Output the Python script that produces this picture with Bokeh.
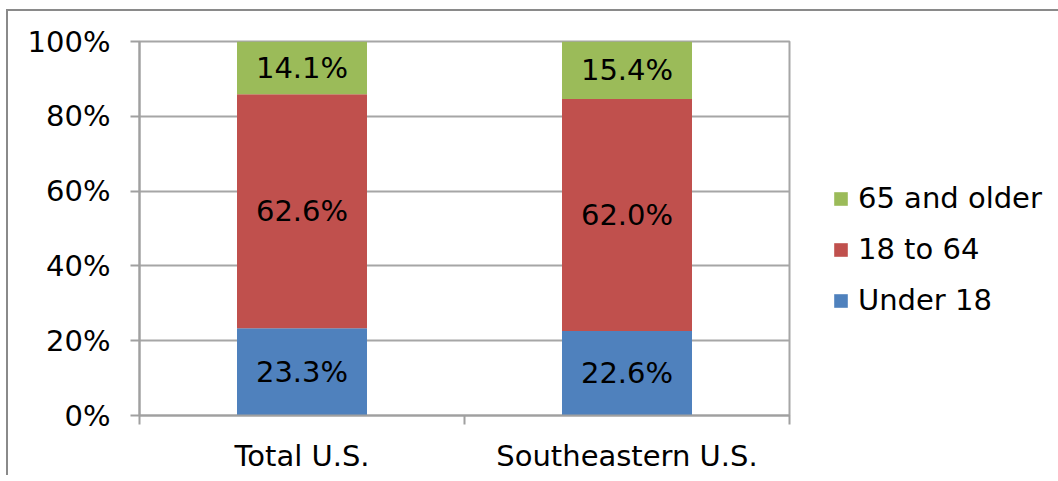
from bokeh.plotting import figure
from bokeh.models import (ColumnDataSource, FixedTicker, PrintfTickFormatter, Range1d,
                          Legend, LegendItem)
from bokeh.core.properties import value
from bokeh.embed import file_html
from bokeh.resources import INLINE

categories = ["Total U.S.", "Southeastern U.S."]
series = ["Under 18", "18 to 64", "65 and older"]
under18 = [23.3, 22.6]
age18to64 = [62.6, 62.0]
over65 = [14.1, 15.4]
colors = ["#4F81BD", "#C0504D", "#9BBB59"]
y_ticks = [0, 20, 40, 60, 80, 100]

FONT = "DejaVu Sans"
FS = "29px"

x = [i + 0.5 for i in range(len(categories))]
data = {"x": x, "Under 18": under18, "18 to 64": age18to64, "65 and older": over65}
src = ColumnDataSource(data)

p = figure(frame_width=650, frame_height=374, output_backend="svg", toolbar_location=None,
           x_range=Range1d(0, len(categories)), y_range=Range1d(0, 100),
           min_border_left=131, min_border_top=30, min_border_right=0, min_border_bottom=58)
p.styles = {"border-left": "2px solid #8a8a8a", "border-top": "2px solid #8a8a8a",
            "margin-left": "6px", "margin-top": "9px"}

renderers = p.vbar_stack(series, x="x", width=0.4, source=src, color=colors, line_color=None)

# labels
for i, s in enumerate(series):
    bottoms = [sum(data[series[k]][j] for k in range(i)) for j in range(len(categories))]
    mids = [b + v / 2 for b, v in zip(bottoms, data[s])]
    texts = ["%.1f%%" % v for v in data[s]]
    p.text(x=x, y=mids, text=texts, text_align="center", text_baseline="middle",
           text_font=value(FONT), text_font_size=FS, text_color="black")

# axes
p.yaxis.ticker = FixedTicker(ticks=y_ticks)
p.yaxis.formatter = PrintfTickFormatter(format="%d%%")
p.yaxis.major_tick_out = 9
p.yaxis.major_tick_in = 0
p.yaxis.minor_tick_out = 0
p.yaxis.minor_tick_in = 0
p.yaxis.major_label_standoff = 20
p.xaxis.ticker = FixedTicker(ticks=x, minor_ticks=[float(i) for i in range(len(categories) + 1)])
p.xaxis.major_label_overrides = {xi: c for xi, c in zip(x, categories)}
p.xaxis.major_tick_out = 0
p.xaxis.major_tick_in = 0
p.xaxis.minor_tick_out = 9
p.xaxis.minor_tick_in = 0
p.xaxis.major_label_standoff = 14
for ax in (p.xaxis[0], p.yaxis[0]):
    ax.axis_line_color = "#a0a0a0"
    ax.axis_line_width = 2
    ax.major_tick_line_color = "#a0a0a0"
    ax.major_tick_line_width = 2
    ax.minor_tick_line_color = "#a0a0a0"
    ax.minor_tick_line_width = 2
    ax.major_label_text_font = FONT
    ax.major_label_text_font_size = FS
    ax.major_label_text_color = "black"

p.xgrid.visible = False
p.ygrid.ticker = FixedTicker(ticks=y_ticks)
p.ygrid.grid_line_color = "#a6a6a6"
p.ygrid.grid_line_width = 2
p.outline_line_color = "#a6a6a6"
p.outline_line_width = 2
p.background_fill_color = "white"
p.border_fill_color = "white"

items = [LegendItem(label=series[i], renderers=[renderers[i]]) for i in reversed(range(len(series)))]
legend = Legend(items=items, location=(43, 98), orientation="vertical",
                glyph_width=17, glyph_height=17, label_height=34, spacing=17,
                label_standoff=9, padding=0, margin=0, border_line_color=None,
                background_fill_alpha=0,
                label_text_font=FONT, label_text_font_size=FS, label_text_color="black")
p.add_layout(legend, "right")

open("out.html", "w").write(file_html(p, INLINE))
